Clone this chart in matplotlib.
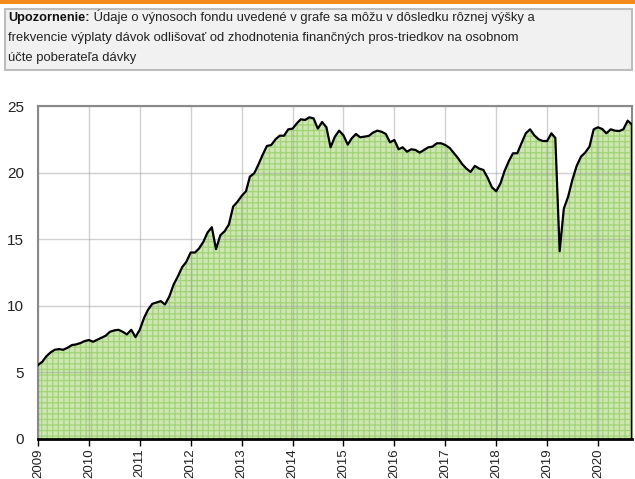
import matplotlib
matplotlib.use('Agg')
import matplotlib.pyplot as plt
import matplotlib.dates as mdates
from matplotlib.patches import Rectangle
import pandas as pd

plt.rcParams['font.family'] = ['Liberation Sans', 'DejaVu Sans']
plt.rcParams['hatch.linewidth'] = 0.9

# monthly fund value, Jan 2009 .. Sep 2020
values = [
    5.55, 5.8, 6.2, 6.5, 6.7, 6.75, 6.7, 6.85, 7.05, 7.1, 7.2, 7.35,
    7.43, 7.3, 7.45, 7.6, 7.75, 8.05, 8.15, 8.2, 8.05, 7.85, 8.2, 7.65,
    8.2, 9.1, 9.7, 10.15, 10.25, 10.35, 10.1, 10.7, 11.6, 12.2, 12.9, 13.3,
    14.0, 14.0, 14.3, 14.8, 15.5, 15.9, 14.25, 15.3, 15.6, 16.1, 17.45, 17.8,
    18.25, 18.6, 19.7, 19.95, 20.6, 21.35, 22.0, 22.07, 22.5, 22.77, 22.77, 23.25,
    23.3, 23.7, 24.0, 23.95, 24.15, 24.07, 23.3, 23.8, 23.4, 21.9, 22.7, 23.15,
    22.8, 22.1, 22.57, 22.9, 22.65, 22.7, 22.75, 23.0, 23.15, 23.07, 22.9, 22.27,
    22.45, 21.75, 21.9, 21.57, 21.75, 21.7, 21.5, 21.7, 21.9, 21.95, 22.2, 22.2,
    22.07, 21.85, 21.5, 21.1, 20.65, 20.3, 20.05, 20.5, 20.3, 20.2, 19.6, 18.9,
    18.6, 19.2, 20.1, 20.85, 21.45, 21.45, 22.2, 22.95, 23.25, 22.8, 22.5, 22.37,
    22.37, 22.95, 22.6, 14.1, 17.3, 18.2, 19.45, 20.5, 21.2, 21.5, 21.95, 23.25,
    23.4, 23.27, 22.95, 23.25, 23.15, 23.12, 23.25, 23.9, 23.6,
]
dates = pd.date_range('2009-01-01', periods=len(values), freq='MS')
y_ticks = [0, 5, 10, 15, 20, 25]

note_bold = 'Upozornenie:'
note_rest = [' Údaje o výnosoch fondu uvedené v grafe sa môžu v dôsledku rôznej výšky a',
             'frekvencie výplaty dávok odlišovať od zhodnotenia finančných pros-triedkov na osobnom',
             'účte poberateľa dávky']

fig = plt.figure(figsize=(6.35, 4.79), dpi=100)

# orange strip and note box
fig.patches.append(Rectangle((0, 1 - 4/479), 1, 4/479, transform=fig.transFigure,
                             facecolor='#f28a1e', edgecolor='none'))
fig.patches.append(Rectangle((5/635, 1 - 70/479), 627/635, 61/479, transform=fig.transFigure,
                             facecolor='#f1f1f1', edgecolor='#bdbdbd', linewidth=1.5))

fs = 9.4
t = fig.text(8/635, 1 - 21/479, note_bold, fontsize=9.2, fontweight='bold', color='#111111')
fig.canvas.draw()
bb = t.get_window_extent()
fig.text(bb.x1 / fig.bbox.width, 1 - 21/479, note_rest[0], fontsize=fs, color='#222222')
fig.text(8/635, 1 - 41/479, note_rest[1], fontsize=fs, color='#222222')
fig.text(8/635, 1 - 61/479, note_rest[2], fontsize=fs, color='#222222')

ax = fig.add_axes([38/635, 40/479, 594/635, 333/479])

ax.fill_between(dates, values, 0, facecolor='#cde6b2', edgecolor='#a2d476',
                hatch='+++', linewidth=0, zorder=1)
ax.plot(dates, values, color='black', linewidth=1.6, zorder=4)
ax.plot([dates[-1], dates[-1]], [values[-1], 0], color='black', linewidth=1.6, zorder=4)

ax.grid(True, color='#999999', alpha=0.45, linewidth=1.0, zorder=2)

ax.set_xlim(dates[0], dates[-1])
ax.set_ylim(0, 25)
ax.set_yticks(y_ticks)
ax.xaxis.set_major_locator(mdates.YearLocator())
ax.xaxis.set_major_formatter(mdates.DateFormatter('%Y'))
plt.setp(ax.get_xticklabels(), rotation=90, va='top', ha='center')

ax.tick_params(axis='y', length=0, pad=10, labelsize=11, labelcolor='#222222')
ax.tick_params(axis='x', length=5, width=1, color='black', pad=2, labelsize=9.5,
               labelcolor='#222222')

for side in ['left', 'top', 'right']:
    ax.spines[side].set_color('#8a8a8a')
    ax.spines[side].set_linewidth(1.5)
ax.spines['bottom'].set_color('black')
ax.spines['bottom'].set_linewidth(2)
ax.spines['bottom'].set_zorder(5)

fig.savefig('out.png', dpi=100)
